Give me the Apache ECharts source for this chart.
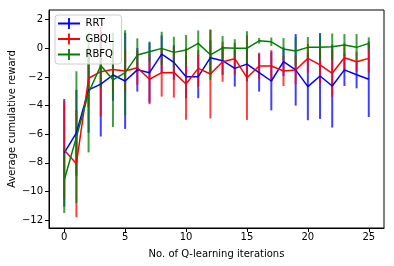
<!DOCTYPE html>
<html>
<head>
<meta charset="utf-8">
<script src="https://cdn.jsdelivr.net/npm/echarts@6/dist/echarts.min.js"></script>
<style>
html,body{margin:0;padding:0;background:#fff;}
#chart{width:394px;height:266px;}
</style>
</head>
<body>
<div id="chart"></div>
<script>
var iterations = [0,1,2,3,4,5,6,7,8,9,10,11,12,13,14,15,16,17,18,19,20,21,22,23,24,25];
var rrtMean = [-7.3,-5.9,-2.9,-2.5,-1.86,-2.28,-1.5,-1.7,-0.4,-0.98,-1.98,-1.98,-0.65,-0.86,-1.4,-1.1,-1.7,-2.28,-0.93,-1.5,-2.67,-1.93,-2.63,-1.5,-1.84,-2.16];
var rrtErr  = [3.76,3.0,3.0,3.66,1.8,3.35,1.52,2.1,1.3,1.2,1.5,1.5,1.2,1.0,1.27,1.2,1.32,2.05,1.0,2.5,2.35,3.0,2.9,1.13,0.95,2.64];
var gbqlMean = [-7.1,-8.06,-2.09,-1.63,-1.47,-1.58,-1.35,-2.16,-1.7,-1.68,-2.49,-1.4,-1.79,-0.93,-0.72,-2.05,-1.23,-1.23,-1.58,-1.51,-0.7,-1.16,-1.74,-0.65,-0.93,-0.7];
var gbqlErr  = [3.4,3.74,2.0,3.13,1.5,1.5,1.2,1.74,1.67,1.76,2.5,1.28,3.1,1.4,1.1,2.95,0.93,1.1,1.05,1.0,1.0,1.3,1.63,1.0,0.7,1.0];
var rbfqMean = [-9.2,-6.2,-3.1,-1.2,-2.2,-1.7,-0.47,-0.23,0,-0.28,-0.12,0.35,-0.45,0.04,0,0,0.53,0.46,-0.05,-0.19,0.07,0.07,0.11,0.23,0.07,0.35];
var rbfqErr  = [2.3,4.6,4.17,1.55,3.3,2.97,1.17,0.7,1.16,1.09,1.05,0.9,1.75,0.82,0.64,1.2,0.2,0.3,0.77,1.0,0.72,0.9,0.93,0.77,0.93,0.42];
var xTicks = [0,5,10,15,20,25];
var yTicks = [-12,-10,-8,-6,-4,-2,0,2];
var seriesNames = ['RRT','GBQL','RBFQ'];
var seriesColors = ['#0000ff','#ff0000','#008000'];

var means = [rrtMean, gbqlMean, rbfqMean];
var errs = [rrtErr, gbqlErr, rbfqErr];
var font = 'DejaVu Sans';
function fmt(v){ return String(v).replace('-', '\u2212'); }

var series = [];
for (var s = 0; s < 3; s++) {
  (function(s){
    var data = iterations.map(function(x, i){ return [x, means[s][i] - errs[s][i], means[s][i] + errs[s][i]]; });
    series.push({
      type: 'custom',
      name: seriesNames[s] + '_err',
      data: data,
      z: 2,
      encode: {x: 0, y: [1, 2]},
      renderItem: function(params, api){
        var x = api.value(0), lo = api.value(1), hi = api.value(2);
        var p1 = api.coord([x, lo]), p2 = api.coord([x, hi]);
        return {type: 'line', shape: {x1: p1[0], y1: p1[1], x2: p2[0], y2: p2[1]},
          style: {stroke: seriesColors[s], lineWidth: 2, opacity: 0.75}};
      }
    });
  })(s);
}
for (var s2 = 0; s2 < 3; s2++) {
  series.push({
    type: 'line',
    name: seriesNames[s2],
    data: iterations.map(function(x, i){ return [x, means[s2][i]]; }),
    symbol: 'none',
    color: seriesColors[s2],
    lineStyle: {width: 1.5, color: seriesColors[s2]},
    z: 3
  });
}

var chart = echarts.init(document.getElementById('chart'));
chart.setOption({
  animation: false,
  grid: {left: 49, top: 10, right: 10, bottom: 38, containLabel: false, outerBoundsMode: 'none',
    show: true, borderColor: '#000', borderWidth: 1, backgroundColor: 'transparent'},
  legend: {
    data: seriesNames.map(function(n){ return {name: n, icon: 'path://M0,5h11v-5h2v5h11v2h-11v5h-2v-5h-11z'}; }),
    orient: 'vertical',
    left: 55, top: 15,
    z: 100, zlevel: 0,
    itemWidth: 23, itemHeight: 11,
    itemGap: 4.5,
    padding: [3, 8, 4, 3],
    backgroundColor: 'rgba(255,255,255,0.8)',
    borderColor: '#cccccc', borderWidth: 1, borderRadius: 3,
    textStyle: {fontFamily: font, fontSize: 10, color: '#000'}
  },
  xAxis: {
    type: 'value', min: -1.25, max: 26.25,
    name: 'No. of Q-learning iterations', nameLocation: 'middle', nameGap: 21, nameMoveOverlap: false,
    nameTextStyle: {fontFamily: font, fontSize: 10, color: '#000'},
    axisLine: {show: true, onZero: false, lineStyle: {color: '#000', width: 1}},
    axisTick: {show: true, length: 4, lineStyle: {color: '#000'}, customValues: xTicks},
    axisLabel: {fontFamily: font, fontSize: 10, color: '#000', margin: 4, customValues: xTicks, formatter: fmt},
    splitLine: {show: false}
  },
  yAxis: {
    type: 'value', min: -12.55, max: 2.68,
    name: 'Average cumulative reward', nameLocation: 'middle', nameGap: 32, nameRotate: 90, nameMoveOverlap: false,
    nameTextStyle: {fontFamily: font, fontSize: 10, color: '#000'},
    axisLine: {show: true, onZero: false, lineStyle: {color: '#000', width: 1}},
    axisTick: {show: true, length: 4, lineStyle: {color: '#000'}, customValues: yTicks},
    axisLabel: {fontFamily: font, fontSize: 10, color: '#000', margin: 6, customValues: yTicks, formatter: fmt},
    splitLine: {show: false}
  },
  series: series
});
</script>
</body>
</html>
